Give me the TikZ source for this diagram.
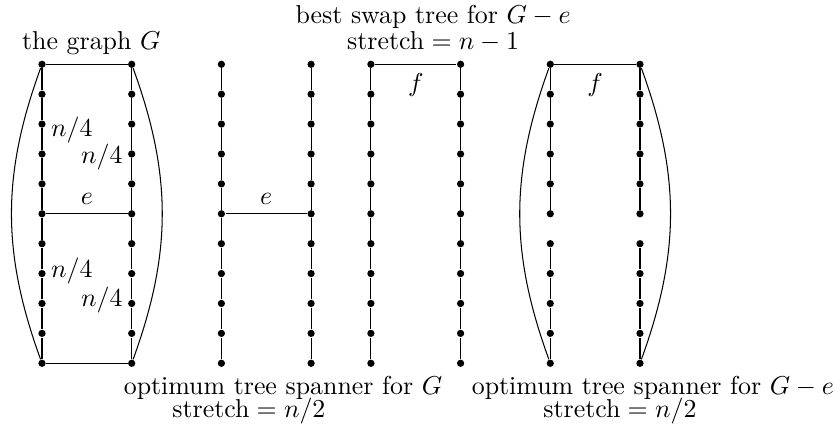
\documentclass[tikz,border=0pt]{standalone}
\begin{document}
\begin{tikzpicture}[
  x=0.406cm,y=0.406cm,
  vtx/.style={circle,fill,inner sep=0pt,minimum size=2.8pt},
  captxt/.style={anchor=base,inner sep=1pt},
]
\useasboundingbox (-1.405,-2.23) rectangle (26.69,12.15);

% the four drawings: two paths of 11 vertices each
\foreach \p/\xl in {g/0,s/6,w/11,t/17}{
  \foreach \i in {0,...,10}{
    \node[vtx] (\p L\i) at (\xl,\i) {};
    \node[vtx] (\p R\i) at (\xl+3,\i) {};
  }
}
\foreach \p in {g,s,w}{
  \foreach \i [count=\j from 1] in {0,...,9}{
    \draw (\p L\i) -- (\p L\j);
    \draw (\p R\i) -- (\p R\j);
  }
}
\foreach \i/\j in {0/1,1/2,2/3,3/4,5/6,6/7,7/8,8/9,9/10}{
  \draw (tL\i) -- (tL\j);
  \draw (tR\i) -- (tR\j);
}

% the graph G
\draw (gL10) -- (gR10);
\draw (gL0) -- (gR0);
\draw (gL5) -- node[above] {$e$} (gR5);
\draw (gL10) to[bend right=20] (gL0);
\draw (gR10) to[bend left=20] (gR0);
\node[right] (qa) at (0,7.8) {$n/4$};
\node[left] (qb) at (3,6.9) {$n/4$};
\node[right] (qc) at (0,3.1) {$n/4$};
\node[left] (qd) at (3,2.1) {$n/4$};

% tree spanner for G
\draw (sL5) -- node[above] {$e$} (sR5);

% swap tree
\draw (wL10) -- node[below] {$f$} (wR10);

% tree spanner for G-e
\draw (tL10) -- node[below] {$f$} (tR10);
\draw (tL10) to[bend right=20] (tL0);
\draw (tR10) to[bend left=20] (tR0);

% captions
\node[captxt] (capg) at (1.65,10.48) {the graph $G$};
\node[captxt] (capw) at (13.08,11.38) {best swap tree for $G-e$};
\node[captxt] (capw2) at (13.08,10.48) {$\mbox{stretch}=n-1$};
\node[captxt] (caps) at (8.06,-1.03) {optimum tree spanner for $G$};
\node[captxt] (caps2) at (6.92,-1.80) {$\mbox{stretch}=n/2$};
\node[captxt] (capt) at (20.43,-1.03) {optimum tree spanner for $G-e$};
\node[captxt] (capt2) at (19.33,-1.80) {$\mbox{stretch}=n/2$};

\end{tikzpicture}
\end{document}
